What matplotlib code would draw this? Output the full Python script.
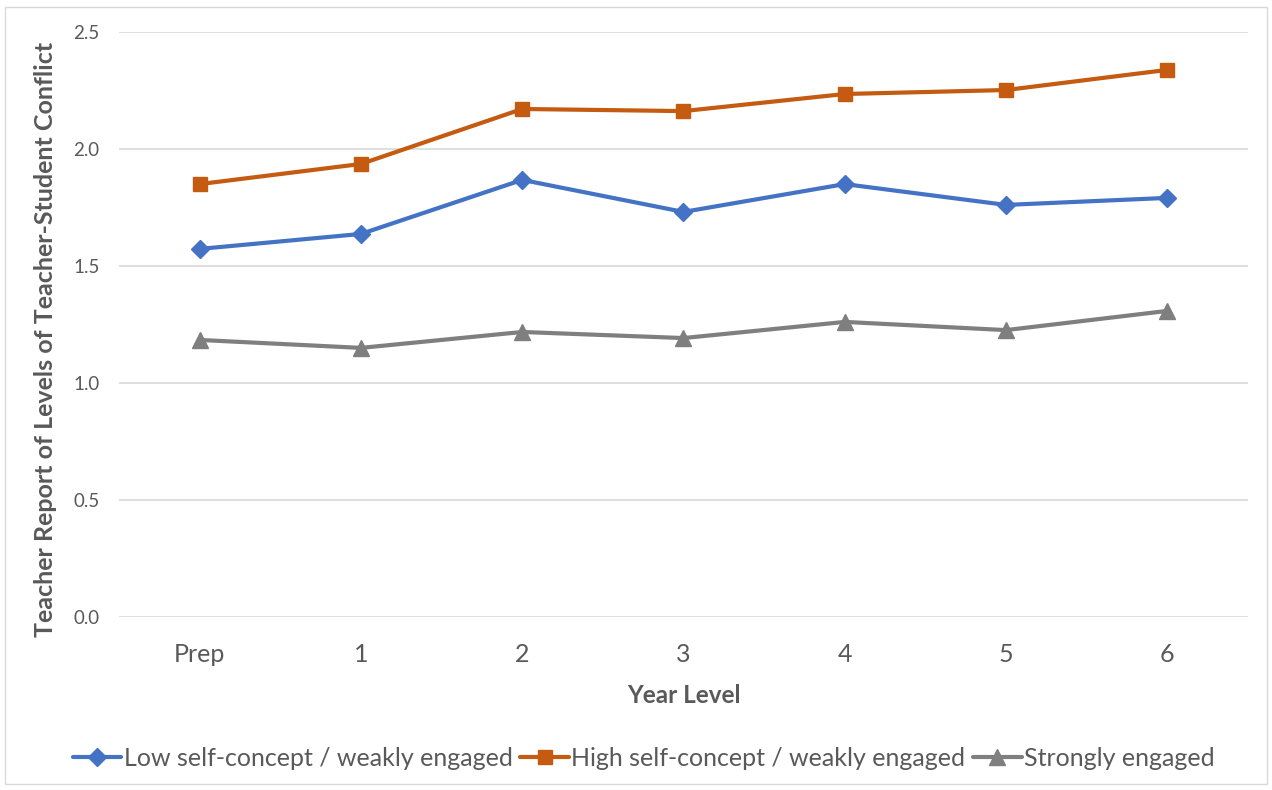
import matplotlib
matplotlib.use("Agg")
import matplotlib.pyplot as plt
from matplotlib.patches import Rectangle

# data
year_levels = ["Prep", "1", "2", "3", "4", "5", "6"]
low_self_concept = [1.573, 1.637, 1.868, 1.731, 1.850, 1.761, 1.791]
high_self_concept = [1.850, 1.936, 2.171, 2.162, 2.235, 2.252, 2.338]
strongly_engaged = [1.184, 1.150, 1.218, 1.192, 1.261, 1.226, 1.308]
series_labels = [
    "Low self-concept / weakly engaged",
    "High self-concept / weakly engaged",
    "Strongly engaged",
]

plt.rcParams["font.family"] = ["Lato", "DejaVu Sans"]
text_color = "#595959"

fig = plt.figure(figsize=(12.72, 7.9), dpi=100)
ax = fig.add_axes([0.0936, 0.219, 0.8874, 0.7405])

x = range(len(year_levels))
styles = [
    (low_self_concept, "#4472C4", "D", 9),
    (high_self_concept, "#C55A11", "s", 10),
    (strongly_engaged, "#7F7F7F", "^", 11),
]
for (values, color, marker, ms), label in zip(styles, series_labels):
    ax.plot(x, values, color=color, lw=3, marker=marker, ms=ms,
            label=label, solid_capstyle="round")

ax.set_xlim(-0.5, len(year_levels) - 0.5)
ax.set_ylim(0, 2.5)
ax.set_yticks([0, 0.5, 1.0, 1.5, 2.0, 2.5])
ax.set_yticklabels([f"{v:.1f}" for v in ax.get_yticks()])
ax.set_xticks(list(x))
ax.set_xticklabels(year_levels)
ax.grid(axis="y", color="#D9D9D9", lw=1.2)
ax.set_axisbelow(True)
for side in ["top", "right", "left", "bottom"]:
    ax.spines[side].set_visible(False)
ax.tick_params(axis="both", length=0, colors=text_color)
ax.tick_params(axis="y", labelsize=13.5, pad=14)
ax.tick_params(axis="x", labelsize=18, pad=19)

ax.set_xlabel("Year Level", fontsize=17.5, fontweight="bold", color=text_color,
              labelpad=13)
ax.set_ylabel("Teacher Report of Levels of Teacher-Student Conflict",
              fontsize=18, fontweight="bold", color=text_color)
ax.yaxis.set_label_coords(-0.055, 0.474)

fig.legend(loc="center", bbox_to_anchor=(0.506, 0.04), ncol=3, frameon=False,
           fontsize=18, labelcolor=text_color, handlelength=1.95,
           handletextpad=0.1, columnspacing=0.3)

fig.patches.append(Rectangle((0.004, 0.008), 0.992, 0.983,
                             transform=fig.transFigure, fill=False,
                             edgecolor="#D9D9D9", lw=1))

fig.savefig("out.png", dpi=100)
